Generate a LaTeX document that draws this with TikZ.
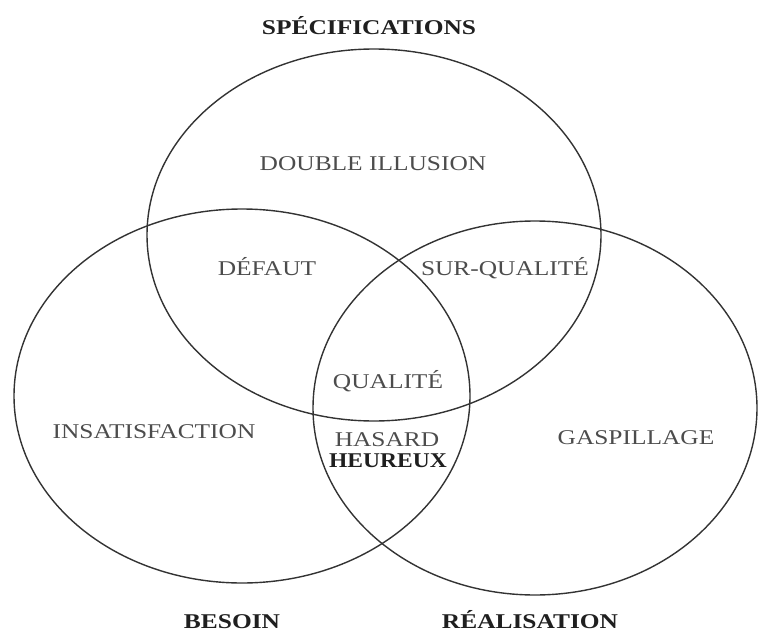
\documentclass[tikz,border=0pt]{standalone}
\usepackage{fontspec}
\setmainfont{Liberation Serif}
\usepackage{xcolor}
\usepackage{tikz}

\newcommand{\stretchx}[1]{\scalebox{1.21}[1]{#1}}

\begin{document}
\begin{tikzpicture}[x=1pt, y=-1pt,
  zone/.style={font=\fontsize{21}{24}\selectfont, text=black!70, anchor=base, inner sep=0pt},
  setname/.style={zone, font=\fontsize{21}{24}\selectfont\bfseries, text=black!88},
  ring/.style={black!80, line width=1.4pt}]
  \useasboundingbox (0,0) rectangle (758,634);

  % the three sets
  \draw[ring] (374,235) ellipse [x radius=227pt, y radius=186pt];
  \draw[ring] (242,396) ellipse [x radius=228pt, y radius=187pt];
  \draw[ring] (535,408) ellipse [x radius=222pt, y radius=187pt];

  % set names
  \node[setname] (spec) at (369,35) {\stretchx{SPÉCIFICATIONS}};
  \node[setname] (besoin) at (232,628) {\stretchx{BESOIN}};
  \node[setname] (real) at (530,628) {\stretchx{RÉALISATION}};

  % zones
  \node[zone] (illusion) at (373,170) {\stretchx{DOUBLE ILLUSION}};
  \node[zone] (defaut) at (267,275) {\stretchx{DÉFAUT}};
  \node[zone] (surq) at (505,275) {\stretchx{SUR-QUALITÉ}};
  \node[zone] (qualite) at (388,388) {\stretchx{QUALITÉ}};
  \node[zone] (insat) at (154,438) {\stretchx{INSATISFACTION}};
  \node[zone] (hasard) at (387,446) {\stretchx{HASARD}};
  \node[setname] (heureux) at (388,467) {\scalebox{1.12}[1]{HEUREUX}};
  \node[zone] (gaspi) at (636,444) {\stretchx{GASPILLAGE}};
\end{tikzpicture}
\end{document}
